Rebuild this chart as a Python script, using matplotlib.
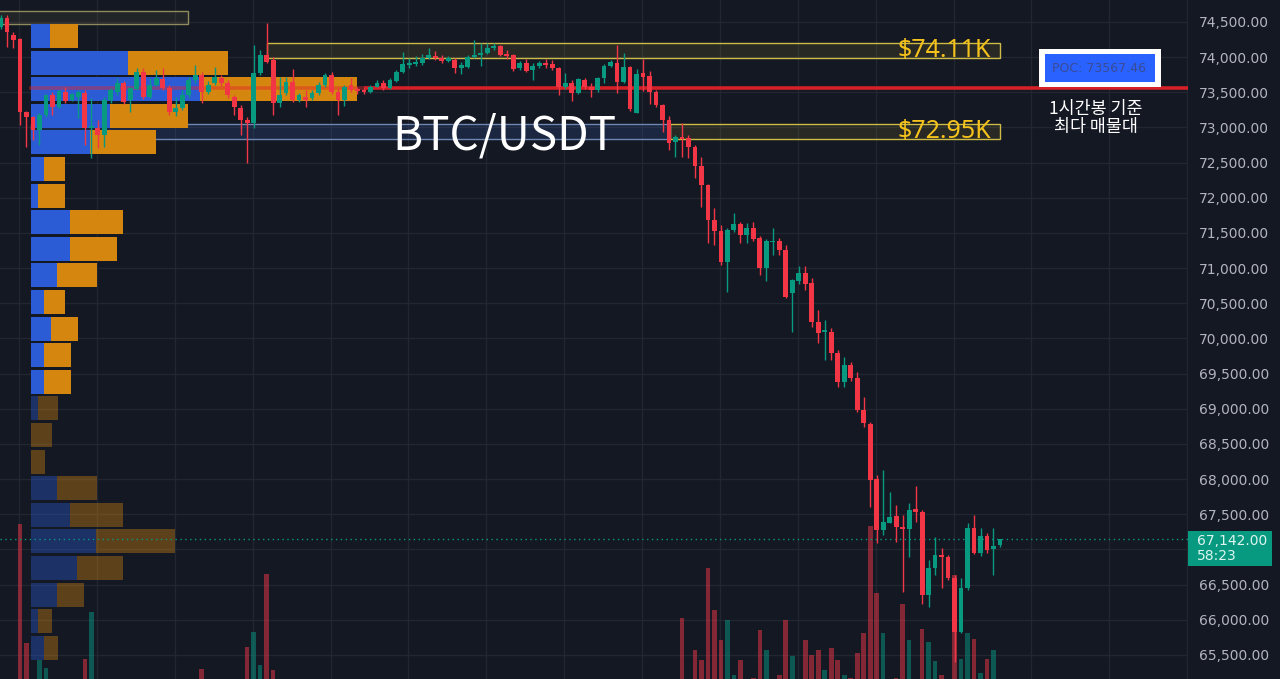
import numpy as np
import matplotlib.pyplot as plt
from matplotlib.patches import Rectangle
from matplotlib.ticker import FuncFormatter

# 1h candles, BTC/USDT
opens = [74430, 74550, 74315, 74255, 73225, 73155, 72965, 73180, 73460, 73295,
         73500, 73390, 73440, 73495, 72990, 72995, 72895, 73390, 73500, 73630,
         73390, 73545, 73790, 73435, 73605, 73690, 73560, 73220, 73280, 73460,
         73675, 73750, 73510, 73630, 73705, 73630, 73435, 73280, 73105, 73065,
         73775, 74030, 73960, 73350, 73490, 73650, 73390, 73435, 73420, 73490,
         73605, 73750, 73510, 73390, 73605, 73550, 73530, 73500, 73580, 73630,
         73565, 73660, 73790, 73890, 73900, 73915, 73990, 74020, 73990, 73945,
         73960, 73840, 73865, 74005, 74030, 74065, 74125, 74160, 74045, 74030,
         73840, 73910, 73820, 73875, 73910, 73900, 73840, 73570, 73630, 73490,
         73675, 73580, 73530, 73700, 73875, 73910, 73640, 73865, 73210, 73770,
         73730, 73510, 73320, 73105, 72800, 72860, 72850, 72725, 72450, 72180,
         71685, 71530, 71090, 71540, 71625, 71470, 71570, 71430, 71000, 71375,
         71390, 71260, 70640, 70810, 70930, 70785, 70240, 70095, 70095, 69790,
         69385, 69625, 69435, 68980, 68780, 67995, 67275, 67380, 67475, 67325,
         67285, 67570, 67535, 66350, 66730, 66920, 66895, 66590, 65830, 66445,
         67300, 66955, 67190, 67000, 67060]
highs = [74600, 74600, 74360, 74270, 73240, 73170, 73200, 73480, 73500, 73540,
         73580, 73490, 73530, 73530, 73420, 73105, 73435, 73560, 73700, 73660,
         73575, 73850, 73850, 73710, 73820, 73850, 73600, 73430, 73530, 73720,
         73890, 73790, 73660, 73860, 73750, 73680, 73460, 73320, 73150, 74170,
         74100, 74485, 74000, 73720, 73720, 73830, 73490, 73530, 73530, 73650,
         73780, 73790, 73560, 73610, 73700, 73580, 73560, 73610, 73670, 73670,
         73700, 73820, 74075, 73990, 74020, 74050, 74130, 74090, 74030, 74020,
         73990, 73930, 74030, 74245, 74200, 74200, 74200, 74180, 74100, 74050,
         73940, 73970, 73920, 73940, 73970, 73960, 73860, 73775, 73675, 73700,
         73700, 73630, 73720, 73900, 73960, 74170, 74065, 73880, 73830, 73975,
         73805, 73530, 73340, 73160, 72890, 73070, 72890, 72750, 72580, 72200,
         71855, 71610, 71570, 71785, 71660, 71645, 71660, 71455, 71410, 71570,
         71430, 71330, 70850, 71030, 71030, 70860, 70405, 70260, 70150, 69835,
         69740, 69660, 69530, 69170, 68815, 68060, 68130, 67820, 67630, 67490,
         67655, 67900, 67560, 66850, 67180, 67015, 66920, 66635, 66590, 67370,
         67490, 67300, 67240, 67300, 67150]
lows = [74400, 74150, 74130, 73035, 72725, 72820, 72750, 73150, 73180, 73270,
        73345, 73370, 73130, 72750, 72570, 72710, 72725, 73350, 73460, 73340,
        73220, 73530, 73400, 73420, 73590, 73530, 73180, 73170, 73250, 73420,
        73630, 73350, 73470, 73600, 73590, 73420, 73180, 72895, 72495, 72990,
        73750, 73915, 73180, 73290, 73460, 73360, 73360, 73290, 73390, 73460,
        73580, 73480, 73180, 73300, 73500, 73480, 73480, 73490, 73570, 73540,
        73550, 73640, 73780, 73850, 73870, 73890, 73970, 73960, 73920, 73930,
        73775, 73760, 73840, 73990, 73875, 74040, 74100, 74010, 73980, 73810,
        73820, 73790, 73675, 73850, 73850, 73820, 73460, 73550, 73380, 73470,
        73550, 73440, 73510, 73630, 73860, 73490, 73630, 73240, 73200, 73520,
        73335, 73290, 72940, 72680, 72585, 72585, 72565, 72280, 71875, 71355,
        71330, 71045, 70665, 71520, 71355, 71355, 71390, 70900, 70810, 71185,
        71190, 70570, 70090, 70780, 70690, 70170, 69935, 69690, 69690, 69315,
        69315, 69390, 68960, 68745, 67610, 67090, 67200, 67375, 67110, 66400,
        66895, 67395, 66225, 66185, 66635, 66450, 66560, 65405, 65810, 66420,
        66935, 66905, 66955, 66635, 67040]
closes = [74560, 74360, 74245, 73225, 73155, 72965, 73180, 73460, 73295, 73520,
          73375, 73475, 73510, 72990, 73020, 72895, 73390, 73535, 73630, 73365,
          73560, 73790, 73435, 73605, 73705, 73560, 73220, 73280, 73460, 73675,
          73750, 73510, 73605, 73720, 73630, 73460, 73290, 73105, 73065, 73775,
          74030, 73930, 73350, 73460, 73650, 73390, 73460, 73390, 73490, 73605,
          73750, 73510, 73390, 73575, 73530, 73520, 73500, 73580, 73630, 73560,
          73675, 73790, 73900, 73915, 73935, 73990, 74030, 73985, 73945, 73990,
          73840, 73890, 74005, 74030, 74065, 74125, 74160, 74030, 74015, 73830,
          73910, 73810, 73875, 73910, 73890, 73840, 73570, 73630, 73490, 73685,
          73570, 73530, 73700, 73875, 73935, 73650, 73855, 73260, 73760, 73720,
          73510, 73320, 73105, 72775, 72870, 72830, 72725, 72450, 72180, 71685,
          71530, 71090, 71540, 71625, 71470, 71570, 71415, 71000, 71390, 71390,
          71260, 70595, 70830, 70930, 70775, 70240, 70075, 70120, 69790, 69385,
          69625, 69435, 68980, 68795, 67985, 67275, 67395, 67465, 67315, 67285,
          67560, 67535, 66350, 66730, 66920, 66895, 66590, 65830, 66445, 67300,
          66955, 67190, 66990, 67050, 67142]
volumes = [280, 320, 360, 1960, 770, 380, 600, 520, 350, 300,
           330, 260, 310, 610, 1080, 350, 390, 280, 300, 310,
           290, 330, 340, 250, 270, 300, 360, 240, 270, 300,
           330, 510, 260, 290, 230, 280, 320, 390, 730, 880,
           550, 1460, 500, 370, 300, 340, 210, 250, 200, 240,
           280, 300, 340, 290, 220, 180, 170, 190, 200, 180,
           210, 260, 330, 220, 200, 240, 250, 210, 190, 170,
           230, 200, 260, 310, 280, 230, 200, 240, 190, 280,
           200, 230, 250, 180, 170, 190, 360, 250, 300, 280,
           210, 230, 260, 300, 220, 400, 350, 400, 390, 330,
           350, 300, 380, 400, 380, 1020, 380, 700, 600, 1520,
           1100, 800, 1000, 450, 600, 400, 420, 900, 700, 400,
           450, 1000, 640, 400, 800, 650, 700, 500, 720, 600,
           450, 420, 670, 870, 1940, 1270, 870, 380, 420, 1160,
           800, 380, 910, 780, 590, 450, 390, 1450, 610, 870,
           810, 470, 610, 700, 300]

# volume profile (top row first), buy / sell volume per price row
profile_up = [380, 1940, 3380, 1580, 1180, 260, 140, 780, 780, 520, 260, 400,
              260, 260, 140, 0, 0, 520, 780, 1300, 920, 520, 140, 260]
profile_down = [560, 2000, 3140, 1560, 1320, 420, 540, 1060, 940, 800, 420, 540,
                540, 540, 400, 420, 280, 800, 1060, 1580, 920, 540, 280, 280]
value_area_rows = 14
profile_top = 74472
profile_row = 378.3

poc = 73567.46
last_price = 67142.00
countdown = "58:23"
zone_hi = (73985, 74195, "$74.11K")
zone_lo = (72830, 73045, "$72.95K")
zone_top = (74470, 74655)
price_ticks = np.arange(65500, 74501, 500)

BG = "#141823"
GRID = "#222631"
UP = "#089981"
DOWN = "#f23645"
PBLUE = "#2b5cd6"
PORANGE = "#d4860f"

fig = plt.figure(figsize=(12.8, 6.79), dpi=100, facecolor=BG)
ax = fig.add_axes([0, 0, 1188 / 1280, 1])
ax.set_facecolor(BG)

n = len(opens)
idx = np.arange(n)
o = np.array(opens, float)
h = np.array(highs, float)
l = np.array(lows, float)
c = np.array(closes, float)
up = c >= o

# volume bars, anchored below the visible area
vol_base = -41 / 679
vol_scale = 1 / 6790
xtr = ax.get_xaxis_transform()
for i in range(n):
    ax.add_patch(Rectangle((i - 0.36, vol_base), 0.72, volumes[i] * vol_scale,
                           transform=xtr, facecolor=UP if up[i] else DOWN,
                           alpha=0.5, lw=0, zorder=2))

# volume profile
px0 = 4.70
pscale = 1 / 129.8
for r in range(len(profile_up)):
    top = profile_top - r * profile_row
    hgt = profile_row * 0.9
    a = 1.0 if r < value_area_rows else 0.38
    wu = profile_up[r] * pscale
    wd = profile_down[r] * pscale
    ax.add_patch(Rectangle((px0, top - hgt), wu, hgt, facecolor=PBLUE,
                           alpha=a, lw=0, zorder=1.5))
    ax.add_patch(Rectangle((px0 + wu, top - hgt), wd, hgt, facecolor=PORANGE,
                           alpha=a, lw=0, zorder=1.5))

# zones
ax.add_patch(Rectangle((-1, zone_top[0]), 29.9, zone_top[1] - zone_top[0],
                       facecolor=(0.8, 0.75, 0.4, 0.08), edgecolor="#8f8a5c",
                       lw=1, zorder=1.2))
ax.add_patch(Rectangle((px0, zone_lo[0]), 103.2 - px0, zone_lo[1] - zone_lo[0],
                       facecolor=(0.25, 0.45, 0.85, 0.16), edgecolor="#6f88b3",
                       lw=1, zorder=1.2))
for z, x0 in [(zone_hi, 41.0), (zone_lo, 103.2)]:
    ax.add_patch(Rectangle((x0, z[0]), 154.0 - x0, z[1] - z[0],
                           facecolor=(0.85, 0.78, 0.25, 0.10), edgecolor="#cdbb48",
                           lw=1, zorder=1.2))
    ax.text(152.6, (z[0] + z[1]) / 2, z[2], color="#f5c21b", fontsize=18,
            family="Noto Sans", ha="right", va="center", zorder=7)

# POC line
ax.plot([px0, 56.0], [poc, poc], color="#e0262b", lw=2.6, alpha=0.45, zorder=1.8)
ax.plot([56.0, 190], [poc, poc], color="#d42026", lw=2.6, zorder=1.8, solid_capstyle="butt")

# candles
cols = np.where(up, UP, DOWN)
ax.vlines(idx, l, h, colors=cols, lw=1, zorder=4)
body = np.maximum(np.abs(c - o), 14)
ax.bar(idx, body, bottom=np.minimum(o, c), width=0.74, color=cols, lw=0, zorder=5)

# last price line
ax.axhline(last_price, color=UP, lw=1, ls=(0, (1, 2.5)), zorder=3)

ax.set_xlim(-0.08, 182.97)
ax.set_ylim(65157.5, 74812.8)
ax.set_xticks(np.arange(2.85, 183, 12))
ax.set_yticks(price_ticks)
ax.grid(True, color=GRID, lw=1, zorder=0)
ax.set_axisbelow(True)
ax.yaxis.tick_right()


def price_fmt(v, p):
    # the level under the last-price tag is covered on the scale
    if abs(v - last_price) < 250:
        return ""
    return f"{v:,.2f}"


ax.yaxis.set_major_formatter(FuncFormatter(price_fmt))
ax.tick_params(axis="y", length=0, pad=8, labelsize=10, labelcolor="#b2b5be")
ax.tick_params(axis="x", length=0, labelbottom=False)
for s in ax.spines.values():
    s.set_visible(False)

# title
ax.text(504 / 1188, 1 - 149 / 679, "BTC/USDT", transform=ax.transAxes,
        color="white", fontsize=33, family="Noto Sans CJK KR",
        ha="center", va="baseline", zorder=8)

# POC label box
fig.add_artist(Rectangle((1039 / 1280, 1 - 87 / 679), 122 / 1280, 38 / 679,
                         transform=fig.transFigure, facecolor="white", lw=0, zorder=6))
fig.add_artist(Rectangle((1045 / 1280, 1 - 82 / 679), 110 / 1280, 28 / 679,
                         transform=fig.transFigure, facecolor="#2962ff", lw=0, zorder=7))
fig.text(1099 / 1280, 1 - 69 / 679, f"POC: {poc:.2f}", color="#3a4b94",
         fontsize=9, ha="center", va="center", zorder=8)
fig.text(1096 / 1280, 1 - 109 / 679, "1시간봉 기준", color="white", fontsize=12.5,
         family=["Noto Sans CJK KR", "DejaVu Sans"], ha="center", va="center", zorder=8)
fig.text(1096 / 1280, 1 - 127 / 679, "최다 매물대", color="white", fontsize=12.5,
         family=["Noto Sans CJK KR", "DejaVu Sans"], ha="center", va="center", zorder=8)

# last price tag on the price scale
fig.add_artist(Rectangle((1188 / 1280, 1 - 566 / 679), 84 / 1280, 35 / 679,
                         transform=fig.transFigure, facecolor=UP, lw=0, zorder=6))
fig.text(1197 / 1280, 1 - 541 / 679, f"{last_price:,.2f}", color="#dcf5ef",
         fontsize=10, ha="left", va="center", zorder=8)
fig.text(1197 / 1280, 1 - 556 / 679, countdown, color="#dcf5ef",
         fontsize=10, ha="left", va="center", zorder=8)

fig.savefig("out.png", dpi=100, facecolor=BG)
